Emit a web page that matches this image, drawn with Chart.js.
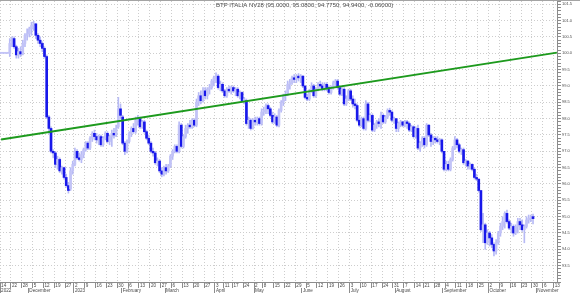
<!DOCTYPE html>
<html>
<head>
<meta charset="utf-8">
<title>BTP ITALIA NV28</title>
<script src="https://cdn.jsdelivr.net/npm/chart.js@4.4.0/dist/chart.umd.min.js"></script>
<style>
  html, body { margin: 0; padding: 0; background: #fff; }
  #wrap { position: relative; width: 580px; height: 293px; border-top: 1px solid #a4a4a4; }
</style>
</head>
<body>
<div id="wrap"><canvas id="chart"></canvas></div>
<script>
const titleText = 'BTP ITALIA NV28 (95.0000, 95.0800, 94.7750, 94.9400, -0.06000)';

// trading calendar shown on the axis
const firstDay = '2022-11-14';
const lastDay = '2023-11-14';
const holidays = ['2022-12-26', '2023-04-07', '2023-04-10', '2023-05-01', '2023-08-15'];

// one label per week (first trading day), one per month
const weekLabels = ['14', '22', '28', '5', '12', '19', '27', '2', '9', '16', '23', '30', '6', '13', '20', '27',
    '6', '13', '20', '27', '3', '11', '17', '24', '2', '8', '15', '22', '29', '5', '12', '19', '26',
    '3', '10', '17', '24', '31', '7', '14', '21', '28', '4', '11', '18', '25', '2', '9', '16', '23', '30', '6', '13'];
const monthLabels = ['2022', 'December', '2023', 'February', 'March', 'April', 'May', 'June', 'July',
    'August', 'September', 'October', 'November'];

// daily prices
const opens = [
    100.0, 100.0, 100.0, 100.0, 100.0, 100.3, 100.45, 100.2, 99.95, 100.05,
    99.98, 100.3, 100.55, 100.6, 100.75, 100.85, 100.9, 100.55, 100.4, 100.3,
    100.15, 99.9, 98.05, 97.7, 97.0, 96.95, 96.6, 96.75, 96.4, 96.5,
    96.2, 95.95, 95.85, 96.4, 96.6, 97.0, 96.8, 96.75, 96.9, 97.05,
    97.25, 97.1, 97.4, 97.55, 97.45, 97.35, 97.45, 97.2, 97.4, 97.55,
    97.3, 97.45, 97.55, 97.5, 97.75, 98.3, 98.05, 97.25, 97.0, 97.3,
    97.55, 97.7, 97.6, 97.95, 98.0, 97.75, 97.9, 97.6, 97.4, 97.25,
    97.0, 96.95, 96.65, 96.7, 96.4, 96.3, 96.5, 96.4, 96.55, 96.85,
    97.0, 97.15, 97.0, 97.8, 97.15, 97.45, 97.7, 97.8, 97.75, 97.95,
    97.8, 98.5, 98.7, 98.55, 98.85, 98.7, 98.9, 98.95, 99.15, 99.25,
    99.3, 98.95, 99.05, 98.85, 98.7, 98.9, 98.85, 98.95, 98.85, 98.9,
    98.7, 98.8, 98.55, 98.55, 97.85, 97.95, 97.7, 97.95, 97.9, 98.0,
    97.85, 98.2, 98.25, 98.4, 98.3, 98.1, 97.9, 98.05, 97.8, 98.25,
    98.5, 98.7, 98.75, 99.05, 99.1, 99.25, 99.2, 99.3, 99.25, 99.3,
    99.0, 98.65, 98.6, 98.85, 99.0, 98.7, 98.9, 99.05, 99.0, 98.9,
    99.05, 98.95, 98.8, 98.95, 99.1, 99.15, 98.95, 98.75, 98.9, 98.45,
    98.6, 98.85, 98.6, 98.45, 98.4, 97.95, 97.8, 98.0, 97.7, 98.45,
    97.95, 98.1, 97.65, 97.8, 97.9, 97.85, 98.1, 97.9, 98.05, 98.25,
    98.2, 97.95, 98.0, 97.7, 97.85, 97.9, 97.8, 97.9, 97.85, 97.65,
    97.75, 97.45, 97.7, 97.1, 97.25, 97.4, 97.2, 97.8, 97.5, 97.3,
    97.4, 97.35, 97.3, 97.35, 97.0, 96.45, 96.6, 96.45, 96.75, 97.1,
    97.35, 97.2, 97.0, 97.05, 96.65, 96.7, 96.55, 96.6, 96.45, 96.2,
    96.15, 95.8, 94.6, 94.75, 94.2, 94.5, 94.35, 94.15, 93.95, 94.2,
    94.5, 94.7, 94.85, 95.1, 94.85, 94.65, 94.7, 94.5, 94.7, 94.85,
    94.75, 94.6, 94.7, 94.9, 94.95, 95.0
];
const highs = [
    100.0, 100.0, 100.0, 100.0, 100.45, 100.5, 100.5, 100.25, 100.15, 100.2,
    100.4, 100.6, 100.75, 100.8, 100.95, 100.98, 100.92, 100.6, 100.5, 100.35,
    100.2, 99.95, 98.1, 97.75, 97.05, 97.0, 96.85, 96.8, 96.55, 96.52,
    96.3, 96.05, 96.5, 96.7, 97.1, 97.05, 96.95, 97.0, 97.1, 97.3,
    97.3, 97.45, 97.6, 97.65, 97.55, 97.5, 97.5, 97.45, 97.6, 97.6,
    97.5, 97.65, 97.7, 97.8, 98.65, 98.45, 98.1, 97.3, 97.35, 97.6,
    97.75, 97.85, 98.05, 98.1, 98.05, 97.95, 97.95, 97.65, 97.5, 97.3,
    97.1, 97.0, 96.8, 96.75, 96.5, 96.55, 96.6, 96.6, 96.9, 97.05,
    97.2, 97.2, 97.9, 97.85, 97.5, 97.8, 97.85, 97.95, 98.0, 98.0,
    98.6, 98.8, 98.85, 98.95, 98.95, 98.95, 99.05, 99.2, 99.3, 99.4,
    99.35, 99.15, 99.1, 98.9, 98.95, 99.0, 99.0, 99.0, 98.95, 98.95,
    98.85, 98.82, 98.65, 98.6, 98.05, 98.0, 98.0, 98.05, 98.05, 98.05,
    98.3, 98.35, 98.45, 98.45, 98.35, 98.2, 98.15, 98.1, 98.3, 98.55,
    98.75, 98.85, 99.15, 99.2, 99.3, 99.35, 99.35, 99.38, 99.35, 99.32,
    99.0, 98.75, 98.9, 99.1, 99.05, 98.95, 99.1, 99.15, 99.1, 99.1,
    99.1, 99.0, 99.0, 99.15, 99.2, 99.2, 99.0, 98.95, 98.95, 98.7,
    98.9, 98.9, 98.7, 98.6, 98.45, 98.1, 98.05, 98.05, 98.55, 98.5,
    98.15, 98.15, 97.85, 97.95, 98.0, 98.2, 98.15, 98.1, 98.3, 98.32,
    98.25, 98.05, 98.0, 97.9, 97.95, 97.92, 97.95, 97.95, 97.9, 97.8,
    97.78, 97.75, 97.8, 97.3, 97.45, 97.45, 97.85, 97.82, 97.55, 97.45,
    97.45, 97.45, 97.4, 97.38, 97.0, 96.7, 96.7, 96.8, 97.15, 97.45,
    97.4, 97.25, 97.1, 97.1, 96.75, 96.72, 96.65, 96.62, 96.5, 96.3,
    96.15, 95.8, 95.1, 94.8, 94.6, 94.55, 94.45, 94.2, 94.3, 94.55,
    94.8, 95.0, 95.15, 95.2, 94.9, 94.8, 94.75, 94.75, 94.95, 94.95,
    94.9, 94.75, 95.0, 95.05, 95.05, 95.08
];
const lows = [
    100.0, 100.0, 100.0, 100.0, 99.9, 100.2, 100.15, 99.85, 99.85, 99.9,
    99.95, 100.2, 100.4, 100.5, 100.55, 100.7, 100.45, 100.3, 100.2, 100.05,
    99.85, 98.0, 97.55, 96.95, 96.8, 96.5, 96.45, 96.35, 96.3, 96.15,
    95.9, 95.72, 95.8, 96.3, 96.55, 96.75, 96.7, 96.65, 96.8, 97.0,
    97.05, 97.05, 97.3, 97.35, 97.25, 97.2, 97.15, 97.15, 97.35, 97.25,
    97.2, 97.15, 97.4, 97.45, 97.7, 98.0, 97.2, 96.9, 96.95, 97.25,
    97.45, 97.55, 97.55, 97.8, 97.7, 97.7, 97.55, 97.35, 97.2, 96.95,
    96.85, 96.6, 96.55, 96.35, 96.22, 96.25, 96.3, 96.35, 96.5, 96.75,
    96.95, 96.95, 96.95, 97.1, 97.1, 97.4, 97.55, 97.7, 97.7, 97.75,
    97.75, 98.4, 98.45, 98.5, 98.6, 98.6, 98.75, 98.9, 99.0, 99.1,
    98.9, 98.85, 98.8, 98.65, 98.65, 98.8, 98.75, 98.8, 98.7, 98.65,
    98.6, 98.5, 98.45, 97.8, 97.7, 97.65, 97.68, 97.8, 97.8, 97.8,
    97.8, 98.1, 98.15, 98.15, 98.05, 97.85, 97.85, 97.75, 97.75, 98.2,
    98.4, 98.55, 98.7, 98.9, 99.05, 99.1, 99.1, 99.15, 99.1, 98.95,
    98.6, 98.55, 98.55, 98.8, 98.65, 98.65, 98.85, 98.95, 98.85, 98.85,
    98.85, 98.75, 98.75, 98.9, 99.0, 98.9, 98.7, 98.7, 98.4, 98.4,
    98.55, 98.55, 98.35, 98.3, 97.9, 97.75, 97.75, 97.65, 97.65, 97.9,
    97.9, 97.6, 97.6, 97.7, 97.75, 97.7, 97.85, 97.85, 98.0, 98.1,
    97.9, 97.85, 97.6, 97.6, 97.75, 97.75, 97.75, 97.7, 97.6, 97.6,
    97.4, 97.4, 97.05, 97.0, 97.15, 97.1, 97.15, 97.45, 97.15, 97.2,
    97.25, 97.25, 97.2, 96.95, 96.4, 96.4, 96.4, 96.4, 96.7, 97.05,
    97.1, 96.95, 96.9, 96.6, 96.55, 96.45, 96.45, 96.4, 96.15, 96.1,
    95.75, 94.55, 94.2, 94.0, 94.15, 94.1, 94.05, 93.8, 93.85, 94.15,
    94.4, 94.6, 94.65, 94.8, 94.6, 94.5, 94.4, 94.45, 94.5, 94.6,
    94.55, 94.2, 94.65, 94.8, 94.85, 94.775
];
const closes = [
    100.0, 100.0, 100.0, 100.0, 100.3, 100.45, 100.2, 99.95, 100.05, 99.98,
    100.3, 100.55, 100.6, 100.75, 100.85, 100.9, 100.55, 100.4, 100.3, 100.15,
    99.9, 98.05, 97.7, 97.0, 96.95, 96.6, 96.75, 96.4, 96.5, 96.2,
    95.95, 95.8, 96.4, 96.6, 97.0, 96.8, 96.75, 96.9, 97.05, 97.25,
    97.1, 97.4, 97.55, 97.45, 97.35, 97.45, 97.2, 97.4, 97.55, 97.3,
    97.45, 97.55, 97.5, 97.7, 98.3, 98.1, 97.25, 97.0, 97.3, 97.55,
    97.7, 97.6, 97.95, 98.0, 97.75, 97.9, 97.6, 97.4, 97.25, 97.0,
    96.95, 96.65, 96.7, 96.4, 96.3, 96.5, 96.4, 96.55, 96.85, 97.0,
    97.15, 97.0, 97.8, 97.15, 97.45, 97.7, 97.8, 97.75, 97.95, 97.8,
    98.5, 98.7, 98.55, 98.85, 98.7, 98.9, 98.95, 99.15, 99.25, 99.3,
    98.95, 99.05, 98.85, 98.7, 98.9, 98.85, 98.95, 98.85, 98.9, 98.7,
    98.8, 98.55, 98.6, 97.85, 97.95, 97.7, 97.95, 97.9, 98.0, 97.85,
    98.2, 98.25, 98.4, 98.3, 98.1, 97.9, 98.05, 97.8, 98.25, 98.5,
    98.7, 98.75, 99.05, 99.1, 99.25, 99.2, 99.3, 99.25, 99.3, 99.0,
    98.65, 98.6, 98.85, 99.0, 98.7, 98.9, 99.05, 99.0, 98.9, 99.05,
    98.95, 98.8, 98.95, 99.1, 99.15, 98.95, 98.75, 98.9, 98.45, 98.6,
    98.85, 98.6, 98.45, 98.4, 97.95, 97.8, 98.0, 97.7, 98.45, 97.95,
    98.1, 97.65, 97.8, 97.9, 97.85, 98.1, 97.9, 98.05, 98.25, 98.2,
    97.95, 98.0, 97.7, 97.85, 97.9, 97.8, 97.9, 97.85, 97.65, 97.75,
    97.45, 97.7, 97.1, 97.25, 97.4, 97.2, 97.8, 97.5, 97.3, 97.4,
    97.35, 97.3, 97.35, 97.0, 96.45, 96.6, 96.45, 96.75, 97.1, 97.35,
    97.2, 97.0, 97.05, 96.65, 96.7, 96.55, 96.6, 96.45, 96.2, 96.15,
    95.8, 94.6, 94.75, 94.2, 94.5, 94.35, 94.15, 93.95, 94.2, 94.5,
    94.7, 94.85, 95.1, 94.85, 94.65, 94.7, 94.5, 94.7, 94.85, 94.75,
    94.6, 94.7, 94.9, 94.95, 95.0, 94.94
];

// trend line, value at the first and at the last day of the axis
const trendValues = [97.36, 100.02];

const yMin = 93.0;
const yMax = 101.6;

const upColor = '#c2c3f7';
const downColor = '#1818ea';
const wickColor = '#b7baf5';
const gridColor = '#cdcdcd';
const axisColor = '#8c8c8c';
const textColor = '#4a4a4a';
const clear = 'rgba(0,0,0,0)';
const axisFont = { family: '"Liberation Sans Narrow", "Liberation Sans", Arial, sans-serif', size: 4.6, lineHeight: 1 };
const yFont = { family: '"Liberation Sans", Arial, sans-serif', size: 4, lineHeight: 1 };

// build the list of trading days
const days = [];
const end = new Date(lastDay + 'T00:00:00Z');
for (let d = new Date(firstDay + 'T00:00:00Z'); d <= end; d.setUTCDate(d.getUTCDate() + 1)) {
    const iso = d.toISOString().slice(0, 10);
    const dow = d.getUTCDay();
    if (dow === 0 || dow === 6 || holidays.includes(iso)) continue;
    days.push(iso);
}

const weekTick = {};
const monthTick = {};
let w = 0, m = 0;
days.forEach((iso, i) => {
    const dow = new Date(iso + 'T00:00:00Z').getUTCDay();
    const prevDow = i > 0 ? new Date(days[i - 1] + 'T00:00:00Z').getUTCDay() : 99;
    if (i === 0 || dow <= prevDow) weekTick[i] = weekLabels[w++];
    if (i === 0 || iso.slice(5, 7) !== days[i - 1].slice(5, 7)) monthTick[i] = monthLabels[m++];
});

const bodies = opens.map((o, i) => [o, closes[i]]);
const wicks = lows.map((l, i) => [l, highs[i]]);
const trend = [
    { x: days[0], y: trendValues[0] },
    { x: days[days.length - 1], y: trendValues[1] }
];

const isHalf = v => Math.abs(v * 2 - Math.round(v * 2)) < 1e-6;

// fixed axis sizes so the plot fills the canvas like the original
const fixHeight = h => scale => {
    scale.height = h;
    scale.paddingLeft = 0;
    scale.paddingRight = 0;
};

const headerPlugin = {
    id: 'header',
    afterDraw(chart) {
        const c = chart.ctx;
        c.save();
        c.font = '6px "Liberation Sans", Arial, sans-serif';
        c.fillStyle = textColor;
        c.textBaseline = 'top';
        c.fillText(titleText, 216, 1);
        c.restore();
    }
};

new Chart(document.getElementById('chart').getContext('2d'), {
    type: 'bar',
    data: {
        labels: days,
        datasets: [{
            type: 'line',
            data: trend,
            borderColor: '#1d9a1d',
            borderWidth: 2,
            pointRadius: 0,
            order: 0
        }, {
            data: bodies,
            backgroundColor: ctx => closes[ctx.dataIndex] >= opens[ctx.dataIndex] ? upColor : downColor,
            barThickness: 2,
            minBarLength: 1,
            grouped: false,
            order: 1
        }, {
            data: wicks,
            backgroundColor: wickColor,
            barThickness: 1,
            grouped: false,
            order: 2
        }]
    },
    options: {
        responsive: true,
        maintainAspectRatio: false,
        animation: false,
        layout: { padding: { top: 0, right: 7, bottom: 1, left: 0 } },
        plugins: {
            legend: { display: false },
            tooltip: { enabled: false },
            title: { display: false }
        },
        scales: {
            x: {
                offset: true,
                weight: 0,
                afterFit: fixHeight(6),
                grid: {
                    offset: true,
                    color: c => weekTick[c.index] !== undefined ? gridColor : clear,
                    tickColor: c => weekTick[c.index] !== undefined ? axisColor : clear,
                    tickLength: 6
                },
                border: { color: axisColor, dash: [1, 2] },
                ticks: {
                    autoSkip: false,
                    maxRotation: 0,
                    minRotation: 0,
                    align: 'start',
                    padding: -5,
                    font: axisFont,
                    color: textColor,
                    callback: (v, i) => weekTick[i] !== undefined ? weekTick[i] : ''
                }
            },
            x2: {
                type: 'category',
                position: 'bottom',
                offset: true,
                weight: 1,
                afterFit: fixHeight(5),
                grid: {
                    offset: true,
                    drawOnChartArea: false,
                    tickColor: c => monthTick[c.index] !== undefined ? axisColor : clear,
                    tickLength: 5
                },
                border: { display: false },
                ticks: {
                    autoSkip: false,
                    maxRotation: 0,
                    minRotation: 0,
                    align: 'start',
                    padding: -4.5,
                    font: axisFont,
                    color: textColor,
                    callback: (v, i) => monthTick[i] !== undefined ? monthTick[i] : ''
                }
            },
            y: {
                position: 'right',
                min: yMin,
                max: yMax,
                afterFit: scale => {
                    scale.paddingTop = 0;
                    scale.paddingBottom = 0;
                },
                grid: {
                    color: c => c.tick && isHalf(c.tick.value) ? gridColor : clear,
                    tickColor: axisColor,
                    tickLength: 3
                },
                border: { color: axisColor, dash: [1, 2] },
                ticks: {
                    stepSize: 0.1,
                    autoSkip: false,
                    padding: 1,
                    font: yFont,
                    color: textColor,
                    callback: v => isHalf(v) && v > yMin + 0.2 ? v.toFixed(1) : ''
                }
            }
        }
    },
    plugins: [headerPlugin]
});
</script>
</body>
</html>
